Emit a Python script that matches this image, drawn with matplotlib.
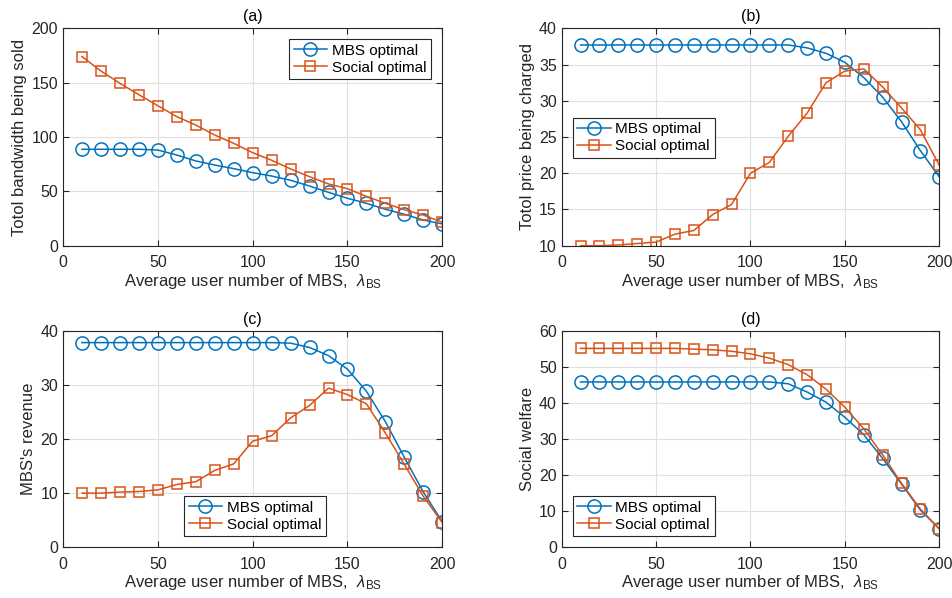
import matplotlib.pyplot as plt
import numpy as np

plt.rcParams['font.family'] = ['Liberation Sans', 'DejaVu Sans']
plt.rcParams['mathtext.fontset'] = 'custom'
plt.rcParams['mathtext.rm'] = 'Liberation Sans'
plt.rcParams['mathtext.it'] = 'Liberation Sans:italic'

# data
lam = [10, 20, 30, 40, 50, 60, 70, 80, 90, 100,
       110, 120, 130, 140, 150, 160, 170, 180, 190, 200]

bw_mbs = [88.7, 88.7, 88.7, 88.7, 88.0, 83.4, 78.0, 74.2, 70.9, 67.2,
          64.1, 60.2, 54.9, 49.1, 43.6, 39.0, 33.5, 28.9, 23.6, 20.0]
bw_soc = [174.0, 160.7, 149.4, 138.9, 128.8, 118.7, 111.0, 101.8, 94.2, 85.6,
          78.6, 70.6, 63.5, 56.8, 52.4, 45.4, 39.0, 33.1, 28.2, 21.5]

price_mbs = [37.7, 37.7, 37.7, 37.7, 37.7, 37.7, 37.7, 37.7, 37.7, 37.7,
             37.7, 37.7, 37.3, 36.55, 35.3, 33.2, 30.5, 27.1, 23.1, 19.5]
price_soc = [10.0, 10.0, 10.1, 10.3, 10.5, 11.6, 12.1, 14.3, 15.7, 20.0,
             21.5, 25.1, 28.3, 32.5, 34.1, 34.4, 31.9, 29.0, 26.0, 21.1]

rev_mbs = [37.8, 37.8, 37.8, 37.8, 37.8, 37.8, 37.8, 37.8, 37.8, 37.8,
           37.8, 37.7, 36.9, 35.4, 32.9, 28.8, 23.2, 16.6, 10.2, 4.7]
rev_soc = [10.0, 10.0, 10.2, 10.3, 10.6, 11.6, 12.1, 14.2, 15.4, 19.6,
           20.6, 23.9, 26.2, 29.4, 28.2, 26.5, 21.1, 15.3, 9.4, 4.55]

sw_mbs = [45.8, 45.8, 45.8, 45.8, 45.8, 45.8, 45.8, 45.8, 45.8, 45.8,
          45.8, 45.3, 43.0, 40.2, 36.0, 31.2, 24.6, 17.5, 10.3, 5.1]
sw_soc = [55.1, 55.1, 55.1, 55.1, 55.1, 55.1, 54.9, 54.7, 54.3, 53.6,
          52.4, 50.6, 47.8, 43.8, 38.8, 32.8, 25.6, 17.7, 10.6, 5.1]

titles = ['(a)', '(b)', '(c)', '(d)']
ylabels = ['Totol bandwidth being sold', 'Totol price being charged',
           "MBS's revenue", 'Social welfare']
ylims = [(0, 200), (10, 40), (0, 40), (0, 60)]
ysteps = [50, 5, 10, 10]

blue = '#0072BD'
red = '#D95319'
dark = '#262626'

W, H = 953, 598
fig = plt.figure(figsize=(W / 100, H / 100), dpi=100)

# axes boxes in pixels: left, top, right, bottom
boxes = [(63, 28.3, 442.3, 245.7), (561.7, 28.3, 939.3, 245.7),
         (63, 330.7, 442.3, 547.3), (561.7, 330.7, 939.3, 547.3)]
# legend anchors (loc, x, y) in axes fraction
legs = [('upper right', 0.970, 0.951), ('upper left', 0.029, 0.589),
        ('lower left', 0.319, 0.051), ('lower left', 0.029, 0.051)]

series = [(bw_mbs, bw_soc), (price_mbs, price_soc),
          (rev_mbs, rev_soc), (sw_mbs, sw_soc)]

for i in range(4):
    l, t, r, b = boxes[i]
    ax = fig.add_axes([l / W, 1 - b / H, (r - l) / W, (b - t) / H])
    m, s = series[i]
    ax.plot(lam, m, '-o', color=blue, lw=1.1, ms=9.5, mfc='none', mew=1.1,
            label='MBS optimal')
    ax.plot(lam, s, '-s', color=red, lw=1.1, ms=7.5, mfc='none', mew=1.1,
            label='Social optimal')
    ax.set_xlim(0, 200)
    ax.set_ylim(*ylims[i])
    ax.set_xticks(np.arange(0, 201, 50))
    ax.set_yticks(np.arange(ylims[i][0], ylims[i][1] + 0.1, ysteps[i]))
    ax.grid(True, color='#e0e0e0', lw=0.8)
    ax.set_axisbelow(True)
    ax.tick_params(direction='in', top=True, right=True, labelsize=11.5,
                   colors=dark, length=4, width=0.8)
    ax.tick_params(axis='x', pad=7)
    for sp in ax.spines.values():
        sp.set_color(dark)
        sp.set_linewidth(0.8)
    ax.set_title(titles[i], fontsize=11.5, color='black', pad=5)
    ax.set_xlabel(r'Average user number of MBS,  $\lambda_{\mathrm{BS}}$',
                  fontsize=12, color=dark, labelpad=1)
    ax.set_ylabel(ylabels[i], fontsize=12, color=dark, labelpad=3)
    loc, lx, ly = legs[i]
    leg = ax.legend(loc=loc, bbox_to_anchor=(lx, ly), borderaxespad=0,
                    fontsize=11, fancybox=False, edgecolor=dark,
                    framealpha=1, handlelength=2.2, handletextpad=0.3,
                    borderpad=0.3, labelspacing=0.2)
    leg.get_frame().set_linewidth(0.8)

fig.savefig('out.png', dpi=100)
